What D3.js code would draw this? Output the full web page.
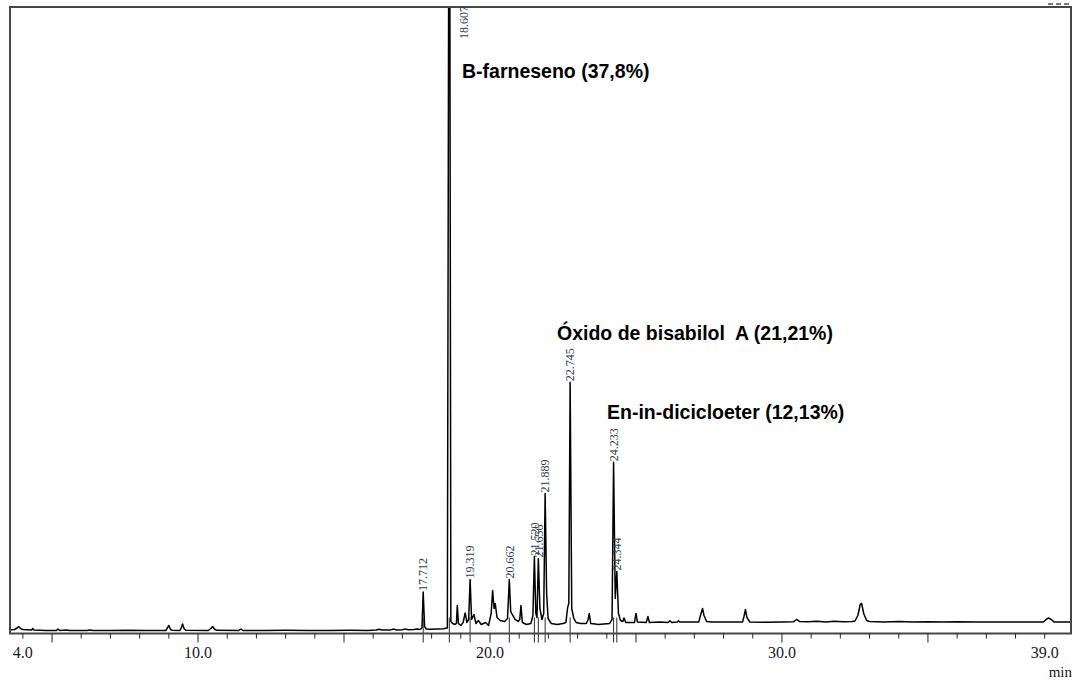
<!DOCTYPE html>
<html>
<head>
<meta charset="utf-8">
<script src="https://cdn.jsdelivr.net/npm/d3@7/dist/d3.min.js"></script>
<style>
  html, body { margin: 0; padding: 0; background: #fff; }
  svg { display: block; }
  .ann { font-family: "Liberation Sans", Arial, sans-serif; font-weight: bold; font-size: 19.5px; fill: #000; white-space: pre; }
  .rt { font-family: "Liberation Serif", "Times New Roman", serif; font-size: 12px; fill: #333c4f; }
  .tick-label { font-family: "Liberation Serif", "Times New Roman", serif; font-size: 16px; fill: #14182a; }
</style>
</head>
<body>
<svg id="chart" width="1077" height="680"></svg>
<script>
// Labelled peaks: retention time (min) and detector signal at the apex
const retentionTimes = [17.712, 18.607, 19.319, 20.662, 21.520, 21.656, 21.889, 22.745, 24.233, 24.344];
const peakHeights    = [41.5,   980,    54,     54,     77,     75,     140,    251,    171,    62];

// Remaining trace points: baseline, minor peaks and peak feet [min, signal]
const signal = [
  [3.56, 3.5], [3.72, 4], [3.8, 5.5], [3.86, 7], [3.92, 5], [4.0, 4], [4.3, 3.5], [4.34, 5], [4.38, 3.5],
  [4.8, 3], [5.15, 3], [5.2, 4.5], [5.26, 3], [5.5, 3.5], [5.6, 3], [6.2, 3], [6.3, 3.6], [6.4, 3],
  [7.0, 3], [7.6, 3.3], [8.2, 3], [8.9, 3], [8.96, 6], [9.0, 8], [9.06, 4], [9.12, 3.2],
  [9.38, 3], [9.43, 6], [9.47, 9.5], [9.52, 5], [9.58, 3.3], [10.35, 3], [10.44, 5], [10.5, 7], [10.56, 4.5], [10.64, 3.2],
  [11.4, 3], [11.47, 4.5], [11.54, 3], [12.3, 3], [13.0, 3.2], [13.8, 3], [14.5, 3], [15.2, 3.2], [15.8, 3],
  [16.1, 3.5], [16.2, 4.2], [16.3, 3.4], [16.6, 3.6], [16.7, 4.4], [16.8, 3.5], [17.0, 3.8], [17.1, 4.6], [17.2, 3.8],
  [17.4, 4], [17.5, 4.6], [17.6, 4], [17.67, 5.5], [17.76, 7], [17.82, 4.5], [17.95, 4.2], [18.2, 4.5], [18.4, 4.8],
  [18.54, 5.5], [18.66, 12], [18.72, 10], [18.8, 9], [18.85, 10], [18.88, 28], [18.92, 10], [19.0, 8],
  [19.08, 11], [19.15, 20.5], [19.21, 11], [19.27, 14], [19.37, 14], [19.45, 19], [19.52, 10], [19.6, 13], [19.7, 9],
  [19.85, 11], [19.95, 8], [20.04, 20], [20.09, 43], [20.14, 25], [20.18, 30], [20.24, 16], [20.35, 13], [20.5, 12],
  [20.6, 15], [20.71, 22], [20.78, 18], [20.86, 14], [20.96, 12], [21.02, 14], [21.06, 28], [21.11, 11], [21.25, 9],
  [21.4, 10], [21.47, 18], [21.57, 20], [21.61, 16], [21.71, 25], [21.78, 14], [21.84, 20], [21.94, 40], [21.99, 15],
  [22.1, 10], [22.3, 9], [22.5, 10], [22.6, 11], [22.66, 26], [22.7, 30], [22.8, 25], [22.87, 15], [22.95, 11],
  [23.1, 10], [23.3, 10], [23.36, 14], [23.4, 20], [23.45, 10], [23.6, 9.5], [23.7, 9], [23.9, 9.5], [24.1, 10],
  [24.18, 14], [24.29, 35], [24.4, 20], [24.47, 13], [24.55, 12], [24.59, 15.5], [24.65, 11], [24.8, 11],
  [24.95, 11], [25.0, 20], [25.05, 11.5], [25.35, 11], [25.41, 17], [25.46, 11], [25.8, 11.5], [26.1, 11],
  [26.16, 12.8], [26.22, 11], [26.42, 11.5], [26.46, 12.6], [26.5, 11.5], [27.15, 11.5], [27.22, 19], [27.28, 25],
  [27.33, 18], [27.42, 12], [27.6, 11.5], [28.2, 11.5], [28.65, 11.5], [28.7, 17], [28.75, 24], [28.8, 16],
  [28.9, 11.5], [29.4, 11.3], [30.0, 11.5], [30.4, 11.8], [30.5, 14], [30.6, 12], [30.9, 11.8], [31.2, 12.3],
  [31.5, 11.6], [31.8, 12.2], [32.1, 11.7], [32.4, 12], [32.5, 12.5], [32.6, 18], [32.68, 29], [32.73, 30],
  [32.8, 20], [32.9, 13], [33.0, 12], [33.5, 11.6], [34.0, 12], [34.5, 11.5], [35.0, 11.8], [35.5, 11.4],
  [36.0, 11.7], [36.6, 11.4], [37.2, 11.6], [37.8, 11.4], [38.4, 11.5], [38.95, 11.5], [39.03, 13.5], [39.13, 15.5],
  [39.23, 13.8], [39.32, 11.5], [39.6, 11.4], [39.9, 11.5]
];

// Time axis
const minorTicks = d3.range(4, 40);
const majorTicks = [5, 10, 15, 20, 25, 30, 35];
const tickLabels = [4, 10, 20, 30, 39];

// Annotations for the main compounds
const compoundNames = ["B-farneseno (37,8%)", "Óxido de bisabilol  A (21,21%)", "En-in-diciclo\u00adeter (12,13%)"];

const svg = d3.select("#chart");
const plot = { left: 10, top: 7, right: 1071, bottom: 633.5 };

const x = d3.scaleLinear().domain([3.56, 39.9]).range([plot.left, plot.right]);
const y = d3.scaleLinear().domain([0, 626]).range([plot.bottom, plot.top]);

svg.append("defs").append("clipPath").attr("id", "plot-clip")
  .append("rect")
  .attr("x", plot.left).attr("y", plot.top)
  .attr("width", plot.right - plot.left).attr("height", plot.bottom - plot.top);

// Full trace: apexes of labelled peaks merged with the other points
const trace = signal.concat(retentionTimes.map((t, i) => [t, peakHeights[i]]))
  .sort((a, b) => a[0] - b[0]);

const line = d3.line().x(d => x(d[0])).y(d => y(d[1]));

// Peak markers crossing the time axis
svg.append("g").selectAll("line").data(retentionTimes).join("line")
  .attr("x1", d => x(d)).attr("x2", d => x(d))
  .attr("y1", y(16)).attr("y2", plot.bottom + 9)
  .attr("stroke", "#2a2a2a").attr("stroke-width", 1);

svg.append("path")
  .datum(trace)
  .attr("clip-path", "url(#plot-clip)")
  .attr("fill", "none")
  .attr("stroke", "#000")
  .attr("stroke-width", 1.5)
  .attr("stroke-linejoin", "round")
  .attr("d", line);

// Frame
svg.append("rect")
  .attr("x", plot.left).attr("y", plot.top)
  .attr("width", plot.right - plot.left).attr("height", plot.bottom - plot.top)
  .attr("fill", "none").attr("stroke", "#474747").attr("stroke-width", 2);

// Ticks
const ticks = svg.append("g");
ticks.selectAll("line").data(minorTicks).join("line")
  .attr("x1", d => x(d)).attr("x2", d => x(d))
  .attr("y1", plot.bottom)
  .attr("y2", d => plot.bottom + (majorTicks.includes(d) ? 9 : 5))
  .attr("stroke", "#222").attr("stroke-width", 1);

svg.append("g").selectAll("text").data(tickLabels).join("text")
  .attr("class", "tick-label")
  .attr("x", d => x(d)).attr("y", 658)
  .attr("text-anchor", "middle")
  .text(d => d3.format(".1f")(d));

svg.append("text").attr("class", "tick-label")
  .attr("x", plot.right + 1).attr("y", 677)
  .attr("text-anchor", "end").style("font-size", "15px")
  .text("min");

// Retention time labels above each apex (off-scale peaks labelled at the top)
svg.append("g").selectAll("text").data(retentionTimes).join("text")
  .attr("class", "rt")
  .attr("transform", (d, i) => {
    const top = y(peakHeights[i]);
    if (top < plot.top) return `translate(${x(d) + 14},${plot.top + 32}) rotate(-90)`;
    return `translate(${x(d)},${top - 1}) rotate(-90)`;
  })
  .attr("dy", "0.35em")
  .text(d => d.toFixed(3));

// Compound annotations
const annPos = [[462, 78], [557, 340], [607, 419]];
svg.append("g").selectAll("text").data(compoundNames).join("text")
  .attr("class", "ann")
  .attr("x", (d, i) => annPos[i][0]).attr("y", (d, i) => annPos[i][1])
  .text(d => d.replace("\u00ad", ""));

// Small dashes in the top right corner
svg.append("line")
  .attr("x1", 1048).attr("x2", 1071).attr("y1", 4).attr("y2", 4)
  .attr("stroke", "#4a5060").attr("stroke-width", 1.5).attr("stroke-dasharray", "5,3");
</script>
</body>
</html>
